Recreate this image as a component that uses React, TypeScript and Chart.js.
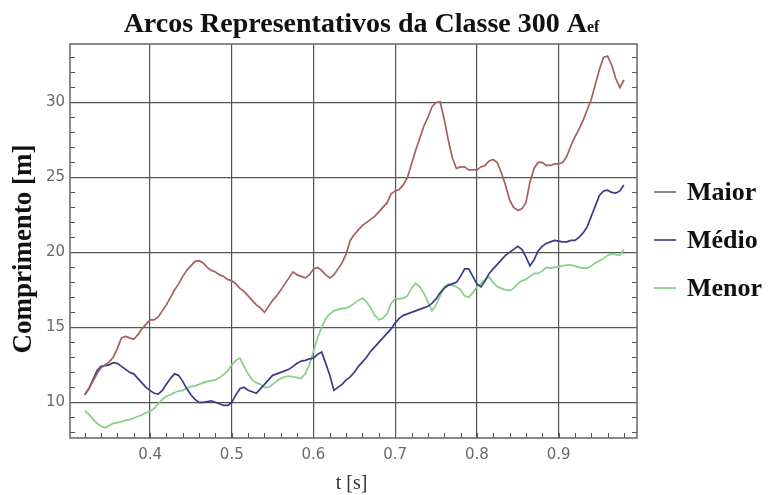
import React, { useEffect, useRef } from "react";
import { Chart, registerables } from "chart.js";

Chart.register(...registerables);

// ---------- data ----------
const TIME = [
  0.32, 0.325, 0.33, 0.335, 0.34, 0.345, 0.35, 0.355, 0.36, 0.365,
  0.37, 0.375, 0.38, 0.385, 0.39, 0.395, 0.4, 0.405, 0.41, 0.415,
  0.42, 0.425, 0.43, 0.435, 0.44, 0.445, 0.45, 0.455, 0.46, 0.465,
  0.47, 0.475, 0.48, 0.485, 0.49, 0.495, 0.5, 0.505, 0.51, 0.515,
  0.52, 0.525, 0.53, 0.535, 0.54, 0.545, 0.55, 0.555, 0.56, 0.565,
  0.57, 0.575, 0.58, 0.585, 0.59, 0.595, 0.6, 0.605, 0.61, 0.615,
  0.62, 0.625, 0.63, 0.635, 0.64, 0.645, 0.65, 0.655, 0.66, 0.665,
  0.67, 0.675, 0.68, 0.685, 0.69, 0.695, 0.7, 0.705, 0.71, 0.715,
  0.72, 0.725, 0.73, 0.735, 0.74, 0.745, 0.75, 0.755, 0.76, 0.765,
  0.77, 0.775, 0.78, 0.785, 0.79, 0.795, 0.8, 0.805, 0.81, 0.815,
  0.82, 0.825, 0.83, 0.835, 0.84, 0.845, 0.85, 0.855, 0.86, 0.865,
  0.87, 0.875, 0.88, 0.885, 0.89, 0.895, 0.9, 0.905, 0.91, 0.915,
  0.92, 0.925, 0.93, 0.935, 0.94, 0.945, 0.95, 0.955, 0.96, 0.965,
  0.97, 0.975, 0.98,
];

const MAIOR = [
  10.5, 10.9, 11.4, 11.9, 12.3, 12.5, 12.7, 13.0, 13.6, 14.3,
  14.4, 14.3, 14.2, 14.5, 14.9, 15.2, 15.5, 15.5, 15.7, 16.1,
  16.5, 17.0, 17.5, 17.9, 18.4, 18.8, 19.1, 19.4, 19.45, 19.3,
  19.0, 18.8, 18.7, 18.5, 18.4, 18.2, 18.1, 17.9, 17.6, 17.4,
  17.1, 16.8, 16.5, 16.3, 16.0, 16.4, 16.8, 17.1, 17.5, 17.9,
  18.3, 18.7, 18.5, 18.4, 18.3, 18.5, 18.9, 19.0, 18.8, 18.5,
  18.3, 18.5, 18.9, 19.3, 19.9, 20.8, 21.2, 21.5, 21.8, 22.0,
  22.2, 22.4, 22.7, 23.0, 23.3, 23.9, 24.1, 24.2, 24.5, 25.0,
  25.9, 26.8, 27.6, 28.4, 29.0, 29.7, 30.0, 30.05, 28.9, 27.5,
  26.3, 25.6, 25.7, 25.7, 25.5, 25.5, 25.5, 25.7, 25.8, 26.1,
  26.2, 26.0, 25.3, 24.5, 23.5, 23.0, 22.8, 22.9, 23.3, 24.7,
  25.6, 26.0, 26.0, 25.8, 25.8, 25.9, 25.9, 26.0, 26.4, 27.1,
  27.7, 28.2, 28.8, 29.5, 30.2, 31.2, 32.2, 33.0, 33.1, 32.5,
  31.6, 31.0, 31.5,
];

const MEDIO = [
  10.5, 10.9, 11.5, 12.1, 12.4, 12.45, 12.5, 12.65, 12.6, 12.4,
  12.2, 12.0, 11.9, 11.6, 11.3, 11.0, 10.8, 10.6, 10.55, 10.8,
  11.2, 11.6, 11.9, 11.8, 11.4, 10.9, 10.5, 10.2, 10.0, 10.0,
  10.05, 10.1, 10.0, 9.9, 9.8, 9.8, 10.0, 10.5, 10.9, 11.0,
  10.8, 10.7, 10.6, 10.9, 11.2, 11.5, 11.8, 11.9, 12.0, 12.1,
  12.2, 12.4, 12.6, 12.75, 12.8, 12.9, 12.95, 13.2, 13.35, 12.6,
  11.8, 10.8, 11.0, 11.2, 11.5, 11.7, 12.0, 12.4, 12.7, 13.0,
  13.4, 13.7, 14.0, 14.3, 14.6, 14.9, 15.3, 15.6, 15.8, 15.9,
  16.0, 16.1, 16.2, 16.3, 16.4, 16.6, 16.9, 17.3, 17.6, 17.8,
  17.9, 18.0, 18.4, 18.9, 18.9, 18.4, 17.9, 17.7, 18.1, 18.6,
  18.9, 19.2, 19.5, 19.8, 20.0, 20.2, 20.4, 20.2, 19.7, 19.1,
  19.5, 20.1, 20.4, 20.6, 20.7, 20.8, 20.75, 20.7, 20.7, 20.8,
  20.8, 21.0, 21.3, 21.7, 22.4, 23.1, 23.8, 24.1, 24.15, 24.0,
  23.95, 24.1, 24.5,
];

const MENOR = [
  9.45, 9.2, 8.9, 8.6, 8.4, 8.3, 8.45, 8.6, 8.65, 8.7,
  8.8, 8.85, 8.95, 9.05, 9.15, 9.3, 9.4, 9.6, 9.9, 10.2,
  10.4, 10.5, 10.65, 10.75, 10.8, 10.95, 11.05, 11.1, 11.2, 11.3,
  11.4, 11.45, 11.5, 11.65, 11.85, 12.1, 12.5, 12.8, 12.95, 12.4,
  11.9, 11.5, 11.3, 11.2, 11.0, 11.0, 11.2, 11.4, 11.6, 11.7,
  11.75, 11.7, 11.65, 11.6, 11.9, 12.5, 13.4, 14.3, 15.0, 15.6,
  15.9, 16.1, 16.2, 16.25, 16.3, 16.4, 16.6, 16.8, 16.95, 16.7,
  16.3, 15.8, 15.5, 15.6, 15.9, 16.6, 16.9, 16.9, 16.95, 17.1,
  17.6, 17.95, 17.7, 17.3, 16.7, 16.1, 16.5, 17.1, 17.7, 17.9,
  17.8, 17.7, 17.5, 17.1, 17.0, 17.3, 17.7, 17.9, 18.2, 18.35,
  18.0, 17.7, 17.6, 17.5, 17.45, 17.6, 17.9, 18.1, 18.2, 18.4,
  18.6, 18.6, 18.75, 19.0, 18.95, 19.0, 19.05, 19.1, 19.15, 19.15,
  19.1, 19.0, 18.95, 18.95, 19.1, 19.3, 19.45, 19.6, 19.8, 19.9,
  19.85, 19.8, 20.2,
];

const SERIES_LABELS = ["Maior", "Médio", "Menor"];
const SERIES_VALUES = [MAIOR, MEDIO, MENOR];
const SERIES_COLORS = ["#a95d5d", "#3b3b88", "#86cf86"];
const LEGEND_COLORS = ["#8c8484", "#5d5da0", "#92d492"];

const X_TICKS = [0.4, 0.5, 0.6, 0.7, 0.8, 0.9];
const Y_TICKS = [10, 15, 20, 25, 30];
const X_MIN = 0.302;
const X_MAX = 0.996;
const Y_MIN = 7.62;
const Y_MAX = 33.9;
const X_MINOR_STEP = 0.02;
const Y_MINOR_STEP = 1;

const TITLE_MAIN = "Arcos Representativos da Classe 300 A";
const TITLE_SUB = "ef";
const X_TITLE = "t [s]";
const Y_TITLE = "Comprimento [m]";

const SERIF = "'Liberation Serif', 'DejaVu Serif', serif";

const decorPlugin = {
  id: "decor",
  beforeDraw(chart: any) {
    const ctx = chart.ctx;
    ctx.save();
    ctx.fillStyle = "#ffffff";
    ctx.fillRect(0, 0, chart.width, chart.height);
    ctx.restore();
  },
  afterDatasetsDraw(chart: any) {
    const ctx = chart.ctx;
    const a = chart.chartArea;
    const xs = chart.scales.x;
    const ys = chart.scales.y;
    ctx.save();

    // minor frame ticks (inward)
    ctx.strokeStyle = "#555555";
    ctx.lineWidth = 1;
    ctx.beginPath();
    for (let k = Math.ceil(X_MIN / X_MINOR_STEP); k * X_MINOR_STEP <= X_MAX; k++) {
      const v = k * X_MINOR_STEP;
      const px = Math.round(xs.getPixelForValue(v)) + 0.5;
      ctx.moveTo(px, a.bottom);
      ctx.lineTo(px, a.bottom - 5);
    }
    for (let k = Math.ceil(Y_MIN / Y_MINOR_STEP); k * Y_MINOR_STEP <= Y_MAX; k++) {
      const v = k * Y_MINOR_STEP;
      const py = Math.round(ys.getPixelForValue(v)) + 0.5;
      ctx.moveTo(a.left, py);
      ctx.lineTo(a.left + 5, py);
      ctx.moveTo(a.right, py);
      ctx.lineTo(a.right - 5, py);
    }
    ctx.stroke();

    // frame
    ctx.strokeStyle = "#666666";
    ctx.lineWidth = 1.5;
    ctx.strokeRect(a.left, a.top, a.right - a.left, a.bottom - a.top);

    // title
    ctx.fillStyle = "#111111";
    ctx.textBaseline = "alphabetic";
    ctx.textAlign = "left";
    const mainFont = `bold 28px ${SERIF}`;
    const subFont = `bold 16px ${SERIF}`;
    ctx.font = mainFont;
    const wMain = ctx.measureText(TITLE_MAIN).width;
    ctx.font = subFont;
    const wSub = ctx.measureText(TITLE_SUB).width;
    const cx = (a.left + a.right) / 2 + 8;
    const tx = cx - (wMain + wSub) / 2;
    ctx.font = mainFont;
    ctx.fillText(TITLE_MAIN, tx, 32);
    ctx.font = subFont;
    ctx.fillText(TITLE_SUB, tx + wMain, 32);

    // x title
    ctx.font = `20px ${SERIF}`;
    ctx.textAlign = "center";
    ctx.fillStyle = "#333333";
    ctx.fillText(X_TITLE, (a.left + a.right) / 2 - 2, 489);

    // y title
    ctx.save();
    ctx.translate(31, 249);
    ctx.rotate(-Math.PI / 2);
    ctx.font = `bold 27px ${SERIF}`;
    ctx.fillStyle = "#111111";
    ctx.textAlign = "center";
    ctx.fillText(Y_TITLE, 0, 0);
    ctx.restore();

    // legend
    chart.data.datasets.forEach((ds: any, i: number) => {
      const base = 200 + i * 48;
      ctx.strokeStyle = LEGEND_COLORS[i];
      ctx.lineWidth = 2;
      ctx.beginPath();
      ctx.moveTo(a.right + 17, base - 8);
      ctx.lineTo(a.right + 39, base - 8);
      ctx.stroke();
      ctx.font = `bold 26px ${SERIF}`;
      ctx.fillStyle = "#111111";
      ctx.textAlign = "left";
      ctx.fillText(ds.label, a.right + 50, base);
    });

    ctx.restore();
  },
};

export default function App() {
  const canvasRef = useRef<HTMLCanvasElement | null>(null);

  useEffect(() => {
    const canvas = canvasRef.current;
    if (!canvas) return;
    const datasets = SERIES_LABELS.map((label, i) => ({
      label,
      data: TIME.map((t, j) => ({ x: t, y: SERIES_VALUES[i][j] })),
      borderColor: SERIES_COLORS[i],
      borderWidth: 1.7,
      pointRadius: 0,
      tension: 0,
      fill: false,
    }));
    const chart = new Chart(canvas, {
      type: "line",
      data: { datasets },
      options: {
        responsive: false,
        animation: false,
        devicePixelRatio: 1,
        layout: { padding: { left: 8, top: 44, right: 134, bottom: 0 } },
        plugins: {
          legend: { display: false },
          title: { display: false },
          tooltip: { enabled: false },
        },
        scales: {
          x: {
            type: "linear",
            min: X_MIN,
            max: X_MAX,
            afterBuildTicks: (scale: any) => {
              scale.ticks = X_TICKS.map((v) => ({ value: v }));
            },
            afterFit: (scale: any) => {
              scale.height = 57;
            },
            ticks: {
              padding: 8,
              color: "#6a6a6a",
              font: { family: "'DejaVu Sans', sans-serif", size: 15 },
              callback: (v: any) => String(v),
              maxRotation: 0,
            },
            grid: { color: "#555555", lineWidth: 1.2, drawTicks: false },
            border: { display: false },
          },
          y: {
            type: "linear",
            min: Y_MIN,
            max: Y_MAX,
            afterBuildTicks: (scale: any) => {
              scale.ticks = Y_TICKS.map((v) => ({ value: v }));
            },
            afterFit: (scale: any) => {
              scale.width = 62;
            },
            ticks: {
              padding: 5,
              color: "#6a6a6a",
              font: { family: "'DejaVu Sans', sans-serif", size: 15 },
              callback: (v: any) => String(v),
            },
            grid: { color: "#555555", lineWidth: 1.2, drawTicks: false },
            border: { display: false },
          },
        },
      },
      plugins: [decorPlugin],
    } as any);
    return () => chart.destroy();
  }, []);

  return (
    <div
      style={{
        position: "fixed",
        left: 0,
        top: 0,
        width: 771,
        height: 495,
        background: "#ffffff",
      }}
    >
      <canvas ref={canvasRef} width={771} height={495} style={{ display: "block" }} />
    </div>
  );
}
